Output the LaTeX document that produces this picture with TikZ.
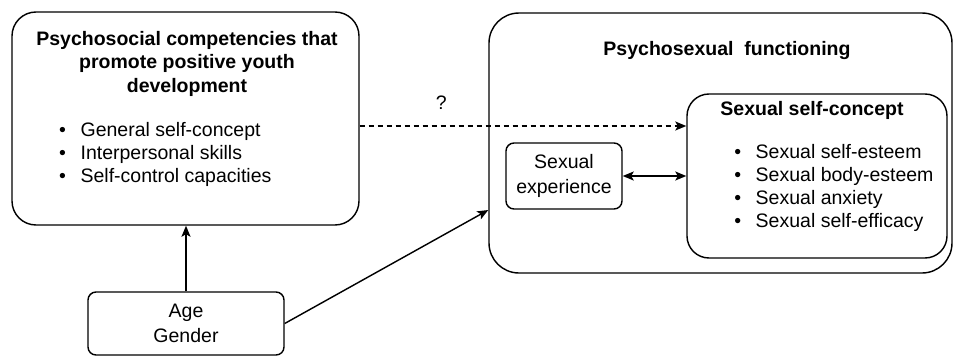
\documentclass[tikz,border=0pt]{standalone}
\usepackage{fontspec}
\setmainfont{Liberation Sans}
\usetikzlibrary{arrows.meta,positioning}

\tikzset{
  rbox/.style={draw, line width=.5mm, rounded corners=#1, inner sep=0pt, align=center,
    font=\fontsize{19.5}{24.5}\selectfont},
  rbox/.default=8pt,
  heading/.style={inner sep=0pt, align=center, font=\fontsize{19.5}{23.5}\selectfont\bfseries},
  bodytext/.style={inner sep=0pt, align=left, anchor=west, font=\fontsize{19.5}{23}\selectfont},
}

\begin{document}
\begin{tikzpicture}[x=1pt, y=-1pt, >={Stealth[length=11pt,width=9pt,inset=2.5pt]}, line width=.5mm]
    \useasboundingbox (0,0) rectangle (953,357);

    % boxes
    \node[rbox=24pt, minimum width=347pt, minimum height=213pt] (comp) at (185.5,118.5) {};
    \node[rbox=30pt, minimum width=463pt, minimum height=260pt] (psy) at (720.5,143) {};
    \node[rbox=22pt, minimum width=260pt, minimum height=164pt] (concept) at (817,176) {};
    \node[rbox, minimum width=116pt, minimum height=66pt] (sexexp) at (564,176)
        {Sexual\\experience};
    \node[rbox, minimum width=196pt, minimum height=63pt] (age) at (186,323.5)
        {Age\\Gender};

    % texts
    \node[heading] (comptitle) at (187,63.5)
        {Psychosocial competencies that\\promote positive youth\\development};
    \node[bodytext] (complist) at (58.3,154.5)
        {•\hspace{14.8pt}General self-concept\\
         •\hspace{14.8pt}Interpersonal skills\\
         •\hspace{14.8pt}Self-control capacities};
    \node[heading] (psytitle) at (727,50) {Psychosexual\ \ functioning};
    \node[heading] (concepttitle) at (812,110) {Sexual self-concept};
    \node[bodytext] (conceptlist) at (733.6,188)
        {•\hspace{14.6pt}Sexual self-esteem\\
         •\hspace{14.6pt}Sexual body-esteem\\
         •\hspace{14.6pt}Sexual anxiety\\
         •\hspace{14.6pt}Sexual self-efficacy};

    % arrows
    \coordinate (psyin) at (psy.west |- 0,210);
    \draw[->] (age.north) -- (age.north |- comp.south);
    \draw[->] (age.east) -- (psyin);
    \draw[<->] (sexexp.east) -- (concept.west);
    \draw[->, dash pattern=on 5pt off 4pt] ([yshift=-7.5pt]comp.east)
        -- node[pos=.25, above=12pt, font=\fontsize{19.5}{22}\selectfont] (qmark) {?}
        ([yshift=-7.5pt]comp.east -| concept.west);
\end{tikzpicture}
\end{document}
